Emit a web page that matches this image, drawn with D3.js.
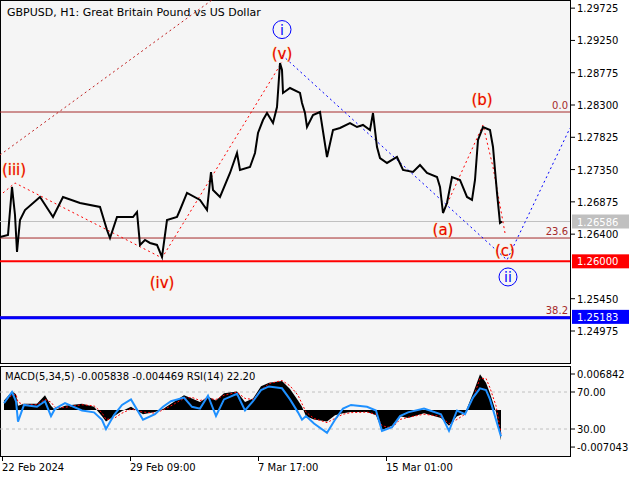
<!DOCTYPE html>
<html lang="en">
<head>
<meta charset="UTF-8">
<title>GBPUSD H1</title>
<style>
  body { margin: 0; background: #fff; font-family: 'DejaVu Sans', sans-serif; }
  svg text { font-family: 'DejaVu Sans', sans-serif; }
</style>
</head>
<body>
<svg id="chart" width="640" height="480"></svg>
<script src="https://d3js.org/d3.v7.min.js"></script>
<script>
// bar index (H1 bars from 22 Feb 2024) and close price
const barIdx = [0,8,12,15,17,20,25,40,53,63,80,100,107,110,117,133,137,140,145,150,157,162,167,177,180,187,200,207,211,213,220,230,237,240,250,255,258,263,267,273,277,280,282,283,290,300,302,305,307,313,320,327,333,340,350,357,363,370,373,377,380,387,397,403,413,420,427,437,440,443,447,452,460,467,472,475,478,483,490,493,495,497,500,502];
const closes = [1.26358,1.26388,1.27094,1.26682,1.26138,1.26608,1.26755,1.26947,1.26652,1.26947,1.26858,1.268,1.26461,1.26344,1.26652,1.26652,1.26726,1.26241,1.26314,1.2627,1.26241,1.26064,1.26608,1.26652,1.26755,1.27006,1.26903,1.26755,1.27314,1.2705,1.26947,1.273,1.27594,1.27344,1.27388,1.27594,1.27888,1.28079,1.28182,1.28035,1.28271,1.28918,1.28815,1.28477,1.2855,1.28477,1.28329,1.28182,1.27976,1.28153,1.28197,1.27535,1.27932,1.27962,1.28035,1.27976,1.28006,1.27932,1.28182,1.27682,1.2752,1.27447,1.27535,1.27344,1.27314,1.27417,1.273,1.27241,1.27094,1.26711,1.26858,1.27241,1.27197,1.26947,1.26903,1.27197,1.27785,1.27976,1.27932,1.27682,1.27344,1.27006,1.26564,1.26586];

// MACD histogram and RSI, same sample bars
const oscIdx = [4,12,16,18,24,37,45,51,55,65,82,94,102,106,114,122,131,143,155,163,171,184,192,200,208,216,224,237,245,253,261,269,282,290,298,302,306,314,327,335,343,351,367,376,382,392,400,408,424,441,449,457,465,473,480,486,490,496,501];
const macdHist = [0.0018,0.0035,0.003,0.0008,0.0012,0.0012,0.0028,0.0008,0,0.0008,0.0012,0.0006,-0.0012,-0.0022,-0.0012,-0.0002,0.0006,-0.0008,-0.0004,0.0002,0.0012,0.0028,0.0022,0.0015,0.0025,0.0018,0.0032,0.0035,0.0015,0.0022,0.0045,0.0052,0.0055,0.004,0.0018,0.0006,-0.0012,-0.0018,-0.0022,-0.001,-0.0006,-0.0004,-0.0004,-0.001,-0.0038,-0.003,-0.0012,-0.0015,-0.0006,-0.0015,-0.003,-0.0012,-0.0006,0.0032,0.0068,0.0052,0.0032,-0.0004,-0.0058];
const macdSignal = [0.0015,0.0028,0.003,0.0015,0.001,0.001,0.002,0.0015,0.0005,0.0005,0.001,0.0008,-0.0005,-0.0018,-0.0016,-0.0006,0.0002,-0.0004,-0.0006,0,0.0008,0.0022,0.0024,0.0018,0.0022,0.002,0.0028,0.0034,0.0022,0.002,0.0038,0.005,0.0056,0.0046,0.0028,0.0012,-0.0004,-0.0016,-0.0024,-0.0016,-0.0008,-0.0005,-0.0004,-0.0008,-0.003,-0.0034,-0.0018,-0.0014,-0.0008,-0.0012,-0.0026,-0.0018,-0.0008,0.0022,0.006,0.006,0.0042,0.0008,-0.0045];
const rsi = [58,70,60,38,56,54,60,44,52,58,50,48,40,30,45,56,62,40,46,54,60,64,54,52,66,44,62,68,50,60,72,76,74,62,48,40,44,36,26,40,52,56,54,50,28,32,44,48,52,46,28,50,46,64,74,72,62,40,22];

// price axis ticks and wave annotations
const priceTicks = [1.29725,1.2925,1.28775,1.283,1.27825,1.2735,1.26875,1.264,1.2545,1.24975];
const dateTicks = [[2,"22 Feb 2024"],[130,"29 Feb 09:00"],[258,"7 Mar 17:00"],[386,"15 Mar 01:00"]];
const subWaves = [[3,1.27006],[15,1.27153],[162,1.2605],[282,1.28933]];
const bigTrend = [[0,1.27565],[212,1.29845]];
const abcWave = [[443,1.26711],[483,1.28006],[493,1.27388],[505,1.26417]];
const blueWave = [[282,1.29035],[507,1.2602],[570,1.27962]];
const redLabels = [[14,1.2733,"(iii)"],[162,1.2568,"(iv)"],[282,1.2905,"(v)"],[443,1.2646,"(a)"],[482,1.2837,"(b)"],[505,1.2615,"(c)"]];
const blueLabels = [[282,1.2941,"i"],[508,1.2577,"ii"]];
const fibLevels = [[1.28197,"0.0"],[1.26343,"23.6"],[1.25183,"38.2"]];

const svg = d3.select("#chart");
const plotR = 570, mainBot = 363, subTop = 366, subBot = 456;

const x = d3.scaleLinear().domain([0, 570]).range([0, plotR]);
const y = d3.scaleLinear().domain([1.283, 1.24975]).range([105, 331]);
const yM = d3.scaleLinear().domain([0, 0.006842]).range([410, 374]);
const yR = d3.scaleLinear().domain([30, 70]).range([429, 392]);

svg.append("rect").attr("width", 640).attr("height", 480).attr("fill", "#fff");
svg.append("rect").attr("x", 0.5).attr("y", 0.5).attr("width", plotR).attr("height", mainBot)
  .attr("fill", "#f5f5f5").attr("stroke", "#000");
svg.append("rect").attr("x", 0.5).attr("y", subTop + 0.5).attr("width", plotR).attr("height", subBot - subTop)
  .attr("fill", "#f5f5f5").attr("stroke", "#000");

const main = svg.append("g");
main.append("clipPath").attr("id", "mclip").append("rect").attr("width", plotR).attr("height", mainBot);
const mg = main.append("g").attr("clip-path", "url(#mclip)");

// horizontal levels
mg.append("line").attr("x1", 0).attr("x2", plotR).attr("y1", y(1.26586)).attr("y2", y(1.26586)).attr("stroke", "#c0c0c0");
fibLevels.forEach(([p, t]) => {
  mg.append("line").attr("x1", 0).attr("x2", plotR).attr("y1", y(p)).attr("y2", y(p)).attr("stroke", "#a52a2a");
  mg.append("text").attr("x", plotR - 2).attr("y", y(p) - 3).attr("text-anchor", "end")
    .attr("font-size", 10).attr("fill", "#a52a2a").text(t);
});
mg.append("line").attr("x1", 0).attr("x2", plotR).attr("y1", y(1.26)).attr("y2", y(1.26)).attr("stroke", "#ff0000").attr("stroke-width", 2);
mg.append("line").attr("x1", 0).attr("x2", plotR).attr("y1", y(1.25183) + 1).attr("y2", y(1.25183) + 1).attr("stroke", "#0000ff").attr("stroke-width", 3);

// wave lines
const wl = d3.line().x(d => x(d[0])).y(d => y(d[1]));
mg.append("path").attr("d", wl(bigTrend)).attr("fill", "none").attr("stroke", "#c02020").attr("stroke-dasharray", "2,3");
mg.append("path").attr("d", wl(subWaves)).attr("fill", "none").attr("stroke", "#ff0000").attr("stroke-dasharray", "2,3");
mg.append("path").attr("d", wl(abcWave)).attr("fill", "none").attr("stroke", "#ff0000").attr("stroke-dasharray", "2,3");
mg.append("path").attr("d", wl(blueWave)).attr("fill", "none").attr("stroke", "#0000ff").attr("stroke-dasharray", "2,3");

// price
const pl = d3.line().x((d, i) => x(barIdx[i])).y(d => y(d));
mg.append("path").attr("d", pl(closes)).attr("fill", "none").attr("stroke", "#000").attr("stroke-width", 2);

redLabels.forEach(([b, p, t]) => {
  mg.append("text").attr("x", x(b)).attr("y", y(p)).attr("text-anchor", "middle").attr("dominant-baseline", "middle")
    .attr("font-size", 15).attr("fill", "#e80000").attr("stroke", "#ffd27a").attr("stroke-width", 0.7)
    .attr("paint-order", "stroke").text(t);
});
blueLabels.forEach(([b, p, t]) => {
  mg.append("circle").attr("cx", x(b)).attr("cy", y(p)).attr("r", 9).attr("fill", "none").attr("stroke", "#0000ff");
  mg.append("text").attr("x", x(b)).attr("y", y(p) + 1).attr("text-anchor", "middle").attr("dominant-baseline", "middle")
    .attr("font-size", 14).attr("fill", "#0000ff").text(t);
});

svg.append("text").attr("x", 7).attr("y", 16).attr("font-size", 11).text("GBPUSD, H1:  Great Britain Pound vs US Dollar");

// price axis
const ax = svg.append("g");
ax.append("line").attr("x1", plotR + 0.5).attr("x2", plotR + 0.5).attr("y1", 0).attr("y2", mainBot).attr("stroke", "#000");
priceTicks.forEach(p => {
  ax.append("line").attr("x1", plotR).attr("x2", plotR + 5).attr("y1", y(p)).attr("y2", y(p)).attr("stroke", "#000");
  ax.append("text").attr("x", plotR + 7).attr("y", y(p) + 4).attr("font-size", 10).text(p.toFixed(5));
});
[[1.26586, "#c0c0c0"], [1.26, "#ff0000"], [1.25183, "#0000ff"]].forEach(([p, c]) => {
  ax.append("rect").attr("x", plotR + 2).attr("y", y(p) - 7).attr("width", 57).attr("height", 14).attr("fill", c);
  ax.append("text").attr("x", plotR + 7).attr("y", y(p) + 4).attr("font-size", 10).attr("fill", "#fff").text(p.toFixed(5));
});

// oscillator pane
const sg = svg.append("g");
sg.append("clipPath").attr("id", "sclip").append("rect").attr("y", subTop).attr("width", plotR).attr("height", subBot - subTop);
const sc = sg.append("g").attr("clip-path", "url(#sclip)");
[70, 30].forEach(v => sc.append("line").attr("x1", 0).attr("x2", plotR).attr("y1", yR(v)).attr("y2", yR(v))
  .attr("stroke", "#c0c0c0").attr("stroke-dasharray", "3,3"));
const area = d3.area().x((d, i) => x(oscIdx[i])).y0(yM(0)).y1(d => yM(d));
sc.append("path").attr("d", area(macdHist)).attr("fill", "#000");
sc.append("path").attr("d", d3.line().x((d, i) => x(oscIdx[i])).y(d => yM(d))(macdSignal))
  .attr("fill", "none").attr("stroke", "#ff0000").attr("stroke-dasharray", "2,2");
sc.append("path").attr("d", d3.line().x((d, i) => x(oscIdx[i])).y(d => yR(d))(rsi))
  .attr("fill", "none").attr("stroke", "#1e90ff").attr("stroke-width", 2);
svg.append("text").attr("x", 5).attr("y", 380).attr("font-size", 10)
  .text("MACD(5,34,5) -0.005838 -0.004469 RSI(14) 22.20");

sg.append("line").attr("x1", plotR + 0.5).attr("x2", plotR + 0.5).attr("y1", subTop).attr("y2", subBot).attr("stroke", "#000");
[[yM(0.006842), "0.006842"], [yR(70), "70.00"], [yR(30), "30.00"], [yM(-0.007043), "-0.007043"]].forEach(([yy, t]) => {
  sg.append("line").attr("x1", plotR).attr("x2", plotR + 5).attr("y1", yy).attr("y2", yy).attr("stroke", "#000");
  sg.append("text").attr("x", plotR + 7).attr("y", yy + 4).attr("font-size", 10).text(t);
});

// date axis
dateTicks.forEach(([b, t]) => {
  svg.append("line").attr("x1", x(b) + 0.5).attr("x2", x(b) + 0.5).attr("y1", subBot).attr("y2", subBot + 5).attr("stroke", "#000");
  svg.append("text").attr("x", x(b)).attr("y", 471).attr("font-size", 10).text(t);
});
</script>
</body>
</html>
